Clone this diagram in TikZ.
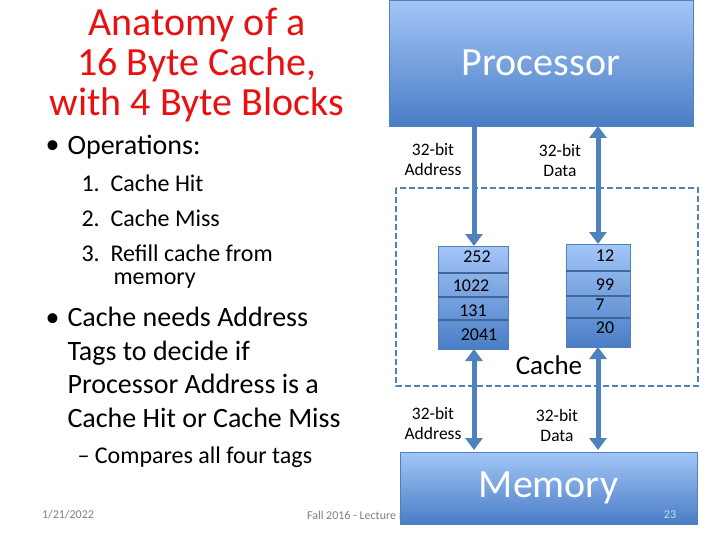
\documentclass[tikz,border=0pt]{standalone}
\usepackage{fontspec}
\setmainfont{Carlito}
\usetikzlibrary{arrows.meta}
\definecolor{ac}{HTML}{4F81BD}
\definecolor{tp}{HTML}{A3C6F7}
\definecolor{bt}{HTML}{4A7DC6}
\definecolor{red1}{HTML}{E81010}
\begin{document}
\begin{tikzpicture}[x=1pt,y=-1pt,
 box/.style={draw=ac,top color=tp,bottom color=bt,line width=0.8pt},
 conn/.style={draw=ac,line width=5pt,-{Triangle[width=17pt,length=12pt]}},
 conn2/.style={draw=ac,line width=5pt,{Triangle[width=17pt,length=12pt]}-{Triangle[width=17pt,length=12pt]}},
 lbl/.style={font=\fontsize{17.5}{20}\selectfont,align=center},
 num/.style={font=\fontsize{18}{20}\selectfont},
 bul/.style={font=\fontsize{28}{33.5}\selectfont,anchor=west},
 sub/.style={font=\fontsize{24}{28}\selectfont,anchor=west},
 foot/.style={font=\fontsize{12}{14}\selectfont,text=gray}]
\useasboundingbox (0,0) rectangle (720,540);
\node[font=\fontsize{40}{40}\selectfont,text=red1,align=center] (title) at (197,65) {Anatomy of a\\16 Byte Cache,\\with 4 Byte Blocks};
\node[bul] (bu1) at (42,147) {•};
\node[bul] (b1) at (64,147) {Operations:};
\node[sub] (n1) at (78,183) {1.\ \ Cache Hit};
\node[sub] (n2) at (78,218) {2.\ \ Cache Miss};
\node[sub] (n3) at (78,253) {3.\ \ Refill cache from};
\node[sub] (n3b) at (110,281) {memory};
\node[bul] (bu2) at (42,320) {•};
\node[bul,align=left,anchor=north west] (b2) at (64,304) {Cache needs Address\\Tags to decide if\\Processor Address is a\\Cache Hit or Cache Miss};
\node[sub] (b3) at (74,457) {– Compares all four tags};
\node[foot] (f1) at (68,515) {1/21/2022};
\node[foot] (f2) at (362,515) {Fall 2016 - Lecture \#14};

\draw[ac,line width=2pt,dash pattern=on 6pt off 3pt] (396,188) rectangle (698,386);
\node[box,minimum width=304pt,minimum height=126pt,inner sep=0pt,text=white,font=\fontsize{40}{44}\selectfont] (proc) at (541,63) {Processor};
\node[box,minimum width=297pt,minimum height=72pt,inner sep=0pt,text=white,font=\fontsize{40}{44}\selectfont] (mem) at (548.5,488) {Memory};
\node[foot,text=white!70!ac] (f3) at (670,515) {23};

\node[box,minimum width=70pt,minimum height=103pt,inner sep=0pt] (tag) at (473,297.5) {};
\node[box,minimum width=64pt,minimum height=103pt,inner sep=0pt] (dat) at (598,295.5) {};
\foreach \y in {273,297,320} \draw[ac!80!black,line width=1.5pt] (438,\y) -- (508,\y);
\foreach \y in {271,296,318} \draw[ac!80!black,line width=1.5pt] (566,\y) -- (630,\y);
\node[num] (t1) at (477,257) {252};
\node[num] (t2) at (471,286) {1022};
\node[num] (t3) at (473,311) {131};
\node[num] (t4) at (479,335) {2041};
\node[num] (d1) at (605,256) {12};
\node[num] (d2) at (605,285) {99};
\node[num] (d3) at (600,305) {7};
\node[num] (d4) at (605,328) {20};
\node[font=\fontsize{27}{30}\selectfont] (cl) at (549,365) {Cache};

\coordinate (pa) at (474,126); \coordinate (ta) at (474,246);
\coordinate (pd) at (598,126); \coordinate (td) at (598,244);
\coordinate (ba) at (474,349); \coordinate (ma) at (474,450);
\coordinate (bd) at (598,347); \coordinate (md) at (598,450);
\draw[conn] (pa) -- (ta);
\draw[conn2] (pd) -- (td);
\draw[conn2] (ba) -- (ma);
\draw[conn2] (bd) -- (md);
\node[lbl] (l1) at (433,159) {32-bit\\Address};
\node[lbl] (l2) at (560,160) {32-bit\\Data};
\node[lbl] (l3) at (433,423) {32-bit\\Address};
\node[lbl] (l4) at (557,425) {32-bit\\Data};
\end{tikzpicture}
\end{document}
